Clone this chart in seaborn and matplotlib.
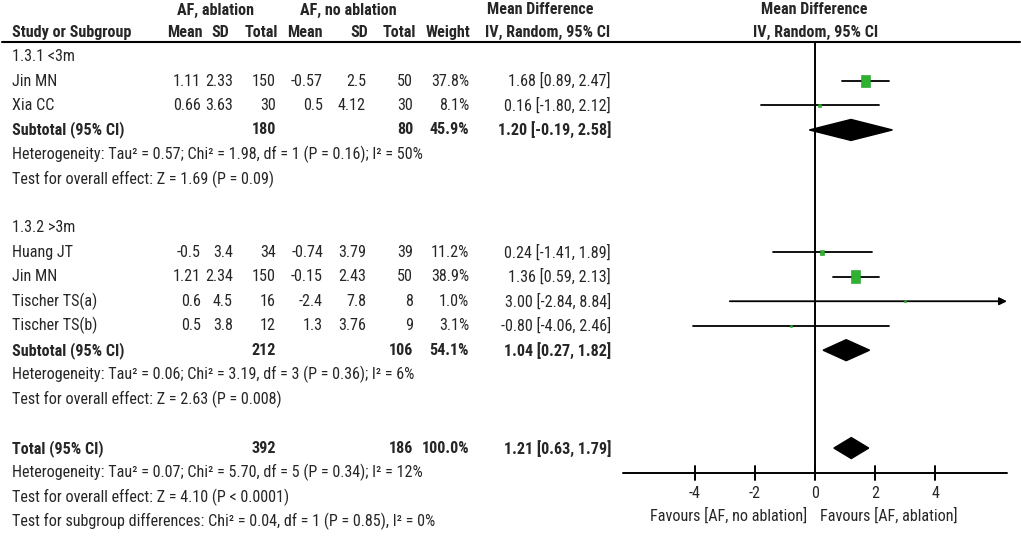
import numpy as np
import pandas as pd
import matplotlib
matplotlib.use("Agg")
import matplotlib.pyplot as plt
import seaborn as sns

# ---------------- data ----------------
studies = ["Jin MN", "Xia CC", "Huang JT", "Jin MN", "Tischer TS(a)", "Tischer TS(b)"]
study_rows = [3, 4, 10, 11, 12, 13]
mean_abl = ["1.11", "0.66", "-0.5", "1.21", "0.6", "0.5"]
sd_abl = ["2.33", "3.63", "3.4", "2.34", "4.5", "3.8"]
n_abl = ["150", "30", "34", "150", "16", "12"]
mean_no = ["-0.57", "0.5", "-0.74", "-0.15", "-2.4", "1.3"]
sd_no = ["2.5", "4.12", "3.79", "2.43", "7.8", "3.76"]
n_no = ["50", "30", "39", "50", "8", "9"]
weights = [37.8, 8.1, 11.2, 38.9, 1.0, 3.1]
md = [1.68, 0.16, 0.24, 1.36, 3.00, -0.80]
ci_lo = [0.89, -1.80, -1.41, 0.59, -2.84, -4.06]
ci_hi = [2.47, 2.12, 1.89, 2.13, 8.84, 2.46]

pooled_labels = ["Subtotal (95% CI)", "Subtotal (95% CI)", "Total (95% CI)"]
pooled_rows = [5, 14, 18]
pooled_n_abl = ["180", "212", "392"]
pooled_n_no = ["80", "106", "186"]
pooled_weight = ["45.9%", "54.1%", "100.0%"]
pooled_md = [1.20, 1.04, 1.21]
pooled_lo = [-0.19, 0.27, 0.63]
pooled_hi = [2.58, 1.82, 1.79]

group_labels = ["1.3.1 <3m", "1.3.2 >3m"]
group_rows = [2, 9]
note_rows = [6, 7, 15, 16, 19, 20, 21]
notes = [
    "Heterogeneity: Tau² = 0.57; Chi² = 1.98, df = 1 (P = 0.16); I² = 50%",
    "Test for overall effect: Z = 1.69 (P = 0.09)",
    "Heterogeneity: Tau² = 0.06; Chi² = 3.19, df = 3 (P = 0.36); I² = 6%",
    "Test for overall effect: Z = 2.63 (P = 0.008)",
    "Heterogeneity: Tau² = 0.07; Chi² = 5.70, df = 5 (P = 0.34); I² = 12%",
    "Test for overall effect: Z = 4.10 (P < 0.0001)",
    "Test for subgroup differences: Chi² = 0.04, df = 1 (P = 0.85), I² = 0%",
]
x_ticks = [-4, -2, 0, 2, 4]
fav_left = "Favours [AF, no ablation]"
fav_right = "Favours [AF, ablation]"

# ---------------- style ----------------
sns.set_theme(style="white")
FAM = ["Roboto Condensed", "Archivo Narrow", "Liberation Sans", "Noto Sans CJK SC", "DejaVu Sans"]
plt.rcParams["font.family"] = FAM
FS = 11.6

W, H = 1021, 537
fig = plt.figure(figsize=(W / 100, H / 100), dpi=100)
ax = fig.add_axes([0, 0, 1, 1])
ax.set_xlim(0, W)
ax.set_ylim(H, 0)
ax.axis("off")

def rowy(r):
    return 7.6 + 24.47 * r

def txt(x, r, s, ha="left", bold=False, dy=0.0):
    ax.text(x, rowy(r) + dy, s, ha=ha, va="center", fontsize=FS,
            fontweight="bold" if bold else "normal", family=FAM)

# headers
txt(215, 0, "AF, ablation", "center", True, dy=2.4)
txt(348, 0, "AF, no ablation", "center", True, dy=2.4)
txt(540, 0, "Mean Difference", "center", True, dy=2.4)
txt(814, 0, "Mean Difference", "center", True, dy=2.4)
txt(12, 1, "Study or Subgroup", "left", True)
for xh, s in zip([203, 229, 278, 323, 368, 416, 470],
                 ["Mean", "SD", "Total", "Mean", "SD", "Total", "Weight"]):
    txt(xh, 1, s, "right", True)
txt(548, 1, "IV, Random, 95% CI", "center", True)
txt(816, 1, "IV, Random, 95% CI", "center", True)
ax.plot([2, 1020], [42, 42], color="black", lw=1.5)

cols = [201, 233, 276, 323, 366, 413, 469, 611]
for i, r in enumerate(study_rows):
    txt(12, r, studies[i])
    vals = [mean_abl[i], sd_abl[i], n_abl[i], mean_no[i], sd_no[i], n_no[i],
            f"{weights[i]:.1f}%", f"{md[i]:.2f} [{ci_lo[i]:.2f}, {ci_hi[i]:.2f}]"]
    for xc, v in zip(cols, vals):
        txt(xc, r, v, "right")

for g, r in zip(group_labels, group_rows):
    txt(12, r, g)
for i, r in enumerate(pooled_rows):
    txt(12, r, pooled_labels[i], bold=True)
    txt(276, r, pooled_n_abl[i], "right", True)
    txt(413, r, pooled_n_no[i], "right", True)
    txt(469, r, pooled_weight[i], "right", True)
    txt(611, r, f"{pooled_md[i]:.2f} [{pooled_lo[i]:.2f}, {pooled_hi[i]:.2f}]", "right", True)
for s, r in zip(notes, note_rows):
    txt(12, r, s)

# ---------------- forest panel ----------------
x0px, x1px = 623, 1007
lim = 6.4
axf = fig.add_axes([x0px / W, 0, (x1px - x0px) / W, 1])
axf.patch.set_alpha(0)

axis_y = rowy(19)
axf.plot([0, 0], [42, axis_y], color="black", lw=1.4)
axf.plot([-lim, lim], [axis_y, axis_y], color="black", lw=1.4, clip_on=False)
for t in x_ticks:
    axf.plot([t, t], [axis_y - 7, axis_y + 7], color="black", lw=1.4)
    axf.text(t, 493, f"{t}", ha="center", va="center", fontsize=FS, family=FAM)
axf.text(-0.25, 516, fav_left, ha="right", va="center", fontsize=FS, family=FAM)
axf.text(0.17, 516, fav_right, ha="left", va="center", fontsize=FS, family=FAM)

# CI lines
for i, r in enumerate(study_rows):
    y = rowy(r)
    if ci_hi[i] > lim:
        axf.annotate("", xy=(lim, y), xytext=(ci_lo[i], y),
                     arrowprops=dict(arrowstyle="-|>", color="black", lw=1.3,
                                     mutation_scale=11, shrinkA=0, shrinkB=0),
                     annotation_clip=False)
    else:
        axf.plot([ci_lo[i], ci_hi[i]], [y, y], color="black", lw=1.3)

df = pd.DataFrame({"md": md, "y": [rowy(r) for r in study_rows], "w": weights})
h_px = 1.5 + 0.29 * np.array(weights)
sizes = (0.72 * h_px) ** 2
rect = [(-0.36, -0.5), (0.36, -0.5), (0.36, 0.5), (-0.36, 0.5), (-0.36, -0.5)]
sns.scatterplot(data=df, x="md", y="y", ax=axf, marker=rect, s=sizes,
                color="#2fb22f", edgecolor="#22992a", linewidth=0.4, zorder=5, legend=False)

for i, r in enumerate(pooled_rows):
    y = rowy(r)
    hh = 10.5
    axf.fill([pooled_lo[i], pooled_md[i], pooled_hi[i], pooled_md[i]],
             [y, y - hh, y, y + hh], color="black", zorder=6)

axf.set_xlim(-lim, lim)
axf.set_ylim(H, 0)
axf.axis("off")

fig.savefig("out.png", dpi=100)
